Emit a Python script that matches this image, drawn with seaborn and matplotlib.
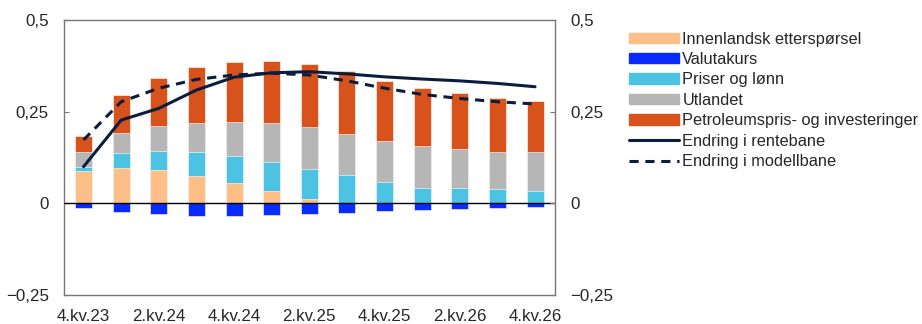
import numpy as np
import pandas as pd
import matplotlib
matplotlib.use("Agg")
import matplotlib.pyplot as plt
import seaborn as sns
from matplotlib.patches import Patch
from matplotlib.lines import Line2D

# Quarters and bar components (percentage points)
quarters = ["4.kv.23", "1.kv.24", "2.kv.24", "3.kv.24", "4.kv.24", "1.kv.25", "2.kv.25",
            "3.kv.25", "4.kv.25", "1.kv.26", "2.kv.26", "3.kv.26", "4.kv.26"]
innenlandsk = [0.088, 0.097, 0.091, 0.075, 0.055, 0.034, 0.012, 0.0, 0.0, 0.0, 0.0, 0.0, 0.0]
valutakurs = [-0.012, -0.023, -0.030, -0.034, -0.034, -0.032, -0.029, -0.025, -0.021, -0.018, -0.015, -0.012, -0.009]
priser = [0.012, 0.041, 0.053, 0.065, 0.075, 0.080, 0.083, 0.078, 0.059, 0.043, 0.043, 0.039, 0.035]
utlandet = [0.040, 0.054, 0.068, 0.079, 0.092, 0.104, 0.113, 0.111, 0.111, 0.114, 0.105, 0.102, 0.105]
petroleum = [0.045, 0.103, 0.131, 0.152, 0.163, 0.169, 0.172, 0.172, 0.165, 0.158, 0.154, 0.147, 0.139]
rentebane = [0.100, 0.227, 0.259, 0.309, 0.344, 0.356, 0.359, 0.353, 0.345, 0.339, 0.334, 0.327, 0.318]
modellbane = [0.173, 0.277, 0.314, 0.338, 0.350, 0.355, 0.350, 0.334, 0.314, 0.297, 0.286, 0.277, 0.271]

tick_labels = ["4.kv.23", "2.kv.24", "4.kv.24", "2.kv.25", "4.kv.25", "2.kv.26", "4.kv.26"]

names = ["Innenlandsk etterspørsel", "Valutakurs", "Priser og lønn", "Utlandet",
         "Petroleumspris- og investeringer"]
colors = ["#FDBF87", "#0A2BFF", "#4DC3E3", "#B6B6B6", "#D8531C"]
line_color = "#0B1D3F"

sns.set_style("white")
plt.rcParams["font.family"] = ["Liberation Sans", "DejaVu Sans"]
plt.rcParams["axes.unicode_minus"] = True

df = pd.DataFrame({"kvartal": quarters, "innen": innenlandsk, "valuta": valutakurs,
                   "priser": priser, "utland": utlandet, "petro": petroleum})
df["c1"] = df["innen"]
df["c2"] = df["c1"] + df["priser"]
df["c3"] = df["c2"] + df["utland"]
df["c4"] = df["c3"] + df["petro"]

fig = plt.figure(figsize=(9.22, 3.24), dpi=100)
ax = fig.add_axes([64 / 922, 1 - 295 / 324, 491 / 922, 275 / 324])

# stacked bars drawn from the top total down
bar_kw = dict(width=0.45, edgecolor="white", linewidth=0.4, ax=ax)
sns.barplot(data=df, x="kvartal", y="c4", color=colors[4], saturation=1, **bar_kw)
sns.barplot(data=df, x="kvartal", y="c3", color=colors[3], saturation=1, **bar_kw)
sns.barplot(data=df, x="kvartal", y="c2", color=colors[2], saturation=1, **bar_kw)
sns.barplot(data=df, x="kvartal", y="c1", color=colors[0], saturation=1, **bar_kw)
sns.barplot(data=df, x="kvartal", y="valuta", color=colors[1], saturation=1, **bar_kw)

xpos = np.arange(len(quarters))
sns.lineplot(x=xpos, y=rentebane, color=line_color, linewidth=2.2, ax=ax)
sns.lineplot(x=xpos, y=modellbane, color=line_color, linewidth=2.2, ax=ax,
             dashes=False, linestyle=(0, (3, 2.2)))

ax.axhline(0, color="black", linewidth=1, zorder=5)

ax.set_ylim(-0.25, 0.5)
ax.set_xlim(-0.52, 12.53)
ax.set_yticks([-0.25, 0, 0.25, 0.5])
ylabels = ["\u22120,25", "0", "0,25", "0,5"]
ax.set_yticklabels(ylabels)
ax.set_xticks(xpos[::2])
ax.set_xticklabels(tick_labels)
ax.set_xlabel("")
ax.set_ylabel("")
ax.tick_params(axis="y", direction="in", length=3.5, color="#777777", labelsize=12.2, pad=11)
ax.tick_params(axis="x", direction="in", length=3.5, color="#777777", labelsize=12.2, pad=10)
for s in ax.spines.values():
    s.set_color("#777777")
    s.set_linewidth(1)

ax2 = ax.twinx()
ax2.set_ylim(-0.25, 0.5)
ax2.set_yticks([-0.25, 0, 0.25, 0.5])
ax2.set_yticklabels(ylabels)
ax2.tick_params(axis="y", direction="in", length=3.5, color="#777777", labelsize=12.2, pad=11)
for s in ax2.spines.values():
    s.set_visible(False)

handles = [Patch(color=colors[i]) for i in range(5)]
handles += [Line2D([], [], color=line_color, linewidth=2.2),
            Line2D([], [], color=line_color, linewidth=2.2, linestyle=(0, (3, 2.2)))]
fig.legend(handles, names + ["Endring i rentebane", "Endring i modellbane"],
           loc="upper left", bbox_to_anchor=(622 / 922, 1 - 25 / 324), frameon=False,
           fontsize=11.8, handlelength=3.1, handleheight=0.6, handletextpad=0.18,
           labelspacing=0.33, borderaxespad=0)

fig.savefig("out.png", dpi=100)
